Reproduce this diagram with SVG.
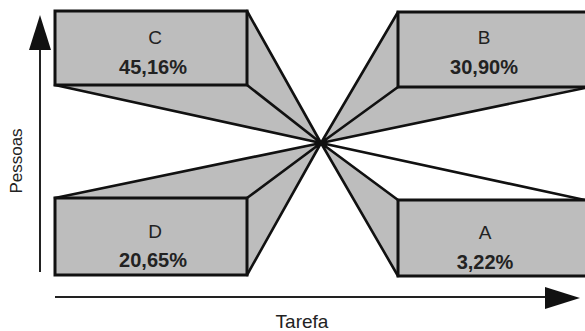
<svg xmlns="http://www.w3.org/2000/svg" width="585" height="331" viewBox="0 0 585 331">
<style>
.fill{fill:#bdbdbd;stroke:none}
.box{fill:#bdbdbd;stroke:#111;stroke-width:3;stroke-linejoin:miter}
.ray{stroke:#111;stroke-width:2.6;fill:none;stroke-linecap:round}
.lbl{font-family:"Liberation Sans",Arial,sans-serif;font-size:19px;fill:#222;text-anchor:middle}
.pct{font-family:"Liberation Sans",Arial,sans-serif;font-size:20px;font-weight:bold;fill:#222;text-anchor:middle}
.ax{font-family:"Liberation Sans",Arial,sans-serif;fill:#222}
</style>
<rect width="585" height="331" fill="#fff"/>
<g id="connectors">
<polygon class="fill" points="55,85 247,85 247,11 321,143"/>
<polygon class="fill" points="398,12 398,87 585,87 321,143"/>
<polygon class="fill" points="55,198 247,198 247,275 321,143"/>
<polygon class="fill" points="398,200 585,200 398,276 321,143"/>
<path class="ray" d="M247,11 L321,143 M247,85 L321,143 M55,85 L321,143"/>
<path class="ray" d="M398,12 L321,143 M398,87 L321,143 M585,88 L321,143"/>
<path class="ray" d="M55,198 L321,143 M247,198 L321,143 M247,275 L321,143"/>
<path class="ray" d="M398,200 L321,143 M398,276 L321,143 M585,200 L321,143"/>
</g>
<g id="node-C">
<rect class="box" x="55" y="11" width="192" height="74"/>
<text class="lbl" x="155" y="44">C</text>
<text class="pct" x="153" y="74">45,16%</text>
</g>
<g id="node-B">
<rect class="box" x="398" y="12" width="200" height="75"/>
<text class="lbl" x="484" y="44">B</text>
<text class="pct" x="484" y="74">30,90%</text>
</g>
<g id="node-D">
<rect class="box" x="55" y="198" width="192" height="77"/>
<text class="lbl" x="155" y="238">D</text>
<text class="pct" x="153" y="267">20,65%</text>
</g>
<g id="node-A">
<rect class="box" x="398" y="200" width="200" height="76"/>
<text class="lbl" x="485" y="239">A</text>
<text class="pct" x="485" y="269">3,22%</text>
</g>
<g id="axes">
<line x1="40" y1="272" x2="40" y2="45" stroke="#222" stroke-width="2"/>
<polygon points="40,15 29,50 51,50" fill="#111"/>
<line x1="55" y1="297" x2="548" y2="297" stroke="#222" stroke-width="2"/>
<polygon points="580,298 545,287 545,309" fill="#111"/>
<text class="ax" font-size="17" transform="translate(22,161) rotate(-90)" text-anchor="middle">Pessoas</text>
<text class="ax" font-size="19" x="302" y="328" text-anchor="middle">Tarefa</text>
</g>
</svg>
